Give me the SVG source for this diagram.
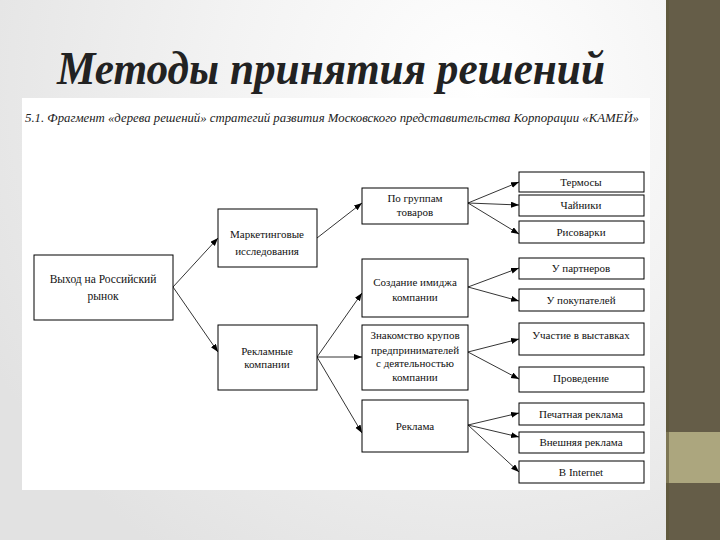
<svg xmlns="http://www.w3.org/2000/svg" width="720" height="540" viewBox="0 0 720 540">
<defs>
<radialGradient id="bg" cx="480" cy="90" r="560" gradientUnits="userSpaceOnUse">
<stop offset="0" stop-color="#ffffff"/>
<stop offset="0.45" stop-color="#f3f3f3"/>
<stop offset="1" stop-color="#e2e2e2"/>
</radialGradient>
<marker id="ah" markerUnits="userSpaceOnUse" markerWidth="9" markerHeight="7" refX="8" refY="3" orient="auto">
<path d="M0,0 L8,3 L0,6 z" fill="#000"/>
</marker>
<style>
.box{fill:#fff;stroke:#000;stroke-width:1}
.t{font-family:"Liberation Serif","Times New Roman",Tinos,"Noto Serif","DejaVu Serif",FreeSerif,serif;font-size:11px;fill:#111;text-anchor:middle}
.ttl{font-family:"Liberation Serif","Times New Roman",Tinos,"Noto Serif","DejaVu Serif",FreeSerif,serif;font-size:47px;font-weight:bold;font-style:italic;fill:#222;text-anchor:middle}
.sub{font-family:"Liberation Serif","Times New Roman",Tinos,"Noto Serif","DejaVu Serif",FreeSerif,serif;font-size:13px;font-style:italic;fill:#222}
.c line{stroke:#000;stroke-width:0.8;marker-end:url(#ah)}
</style>
</defs>
<rect x="0" y="0" width="720" height="540" fill="url(#bg)"/>
<rect x="666" y="0" width="54" height="540" fill="#655d48"/>
<rect x="666" y="432" width="54" height="51" fill="#aca67e"/>
<rect x="666" y="0" width="3" height="540" fill="#5e5638" opacity="0.6"/>
<text class="ttl" x="331" y="84" textLength="548" lengthAdjust="spacingAndGlyphs">Методы принятия решений</text>
<rect x="22" y="98" width="628" height="392" fill="#fff"/>
<text class="sub" x="25" y="122" textLength="614" lengthAdjust="spacingAndGlyphs">5.1. Фрагмент «дерева решений» стратегий развития Московского представительства Корпорации «КАМЕЙ»</text>
<g class="c" id="connectors">
<line x1="173" y1="287" x2="218" y2="238"/>
<line x1="173" y1="287" x2="218" y2="352"/>
<line x1="317" y1="238" x2="362" y2="203"/>
<line x1="317" y1="357" x2="362" y2="293"/>
<line x1="317" y1="357" x2="362" y2="357"/>
<line x1="317" y1="357" x2="362" y2="433"/>
<line x1="468" y1="203" x2="519" y2="182"/>
<line x1="468" y1="203" x2="519" y2="205"/>
<line x1="468" y1="203" x2="519" y2="234"/>
<line x1="468" y1="287" x2="519" y2="268"/>
<line x1="468" y1="287" x2="519" y2="301"/>
<line x1="468" y1="352" x2="519" y2="339"/>
<line x1="468" y1="352" x2="519" y2="379"/>
<line x1="468" y1="425" x2="519" y2="413"/>
<line x1="468" y1="425" x2="519" y2="437"/>
<line x1="468" y1="425" x2="519" y2="472"/>
</g>
<g id="n-market-entry"><rect class="box" x="34" y="255" width="139" height="65"/><text class="t" x="103" y="283" style="font-size:11.5px">Выход на Российский</text><text class="t" x="103" y="300" style="font-size:11.5px">рынок</text></g>
<g id="n-marketing"><rect class="box" x="218" y="209" width="99" height="58"/><text class="t" x="267" y="238">Маркетинговые</text><text class="t" x="267" y="255">исследования</text></g>
<g id="n-ads-campaigns"><rect class="box" x="218" y="325" width="99" height="65"/><text class="t" x="267" y="355">Рекламные</text><text class="t" x="267" y="368">компании</text></g>
<g id="n-groups"><rect class="box" x="362" y="188" width="106" height="36"/><text class="t" x="415" y="202">По группам</text><text class="t" x="415" y="216">товаров</text></g>
<g id="n-image"><rect class="box" x="362" y="259" width="106" height="58"/><text class="t" x="415" y="286">Создание имиджа</text><text class="t" x="415" y="301">компании</text></g>
<g id="n-acquaint"><rect class="box" x="362" y="325" width="106" height="65"/><text class="t" x="415" y="339">Знакомство крупов</text><text class="t" x="415" y="354">предпринимателей</text><text class="t" x="415" y="367">с деятельностью</text><text class="t" x="415" y="381">компании</text></g>
<g id="n-ads"><rect class="box" x="362" y="400" width="106" height="52"/><text class="t" x="415" y="430">Реклама</text></g>
<g id="n-thermos"><rect class="box" x="519" y="172" width="125" height="20"/><text class="t" x="581" y="186">Термосы</text></g>
<g id="n-kettles"><rect class="box" x="519" y="195" width="125" height="21"/><text class="t" x="581" y="209">Чайники</text></g>
<g id="n-rice"><rect class="box" x="519" y="221" width="125" height="22"/><text class="t" x="581" y="236">Рисоварки</text></g>
<g id="n-partners"><rect class="box" x="519" y="258" width="125" height="21"/><text class="t" x="581" y="272">У партнеров</text></g>
<g id="n-buyers"><rect class="box" x="519" y="289" width="125" height="22"/><text class="t" x="581" y="304">У покупателей</text></g>
<g id="n-exhib"><rect class="box" x="519" y="323" width="125" height="32"/><text class="t" x="581" y="339">Участие в выставках</text></g>
<g id="n-holding"><rect class="box" x="519" y="367" width="125" height="25"/><text class="t" x="581" y="382">Проведение</text></g>
<g id="n-print"><rect class="box" x="519" y="403" width="125" height="22"/><text class="t" x="581" y="418">Печатная реклама</text></g>
<g id="n-outdoor"><rect class="box" x="519" y="432" width="125" height="21"/><text class="t" x="581" y="446">Внешняя реклама</text></g>
<g id="n-internet"><rect class="box" x="519" y="461" width="125" height="22"/><text class="t" x="581" y="476">В Internet</text></g>
</svg>
